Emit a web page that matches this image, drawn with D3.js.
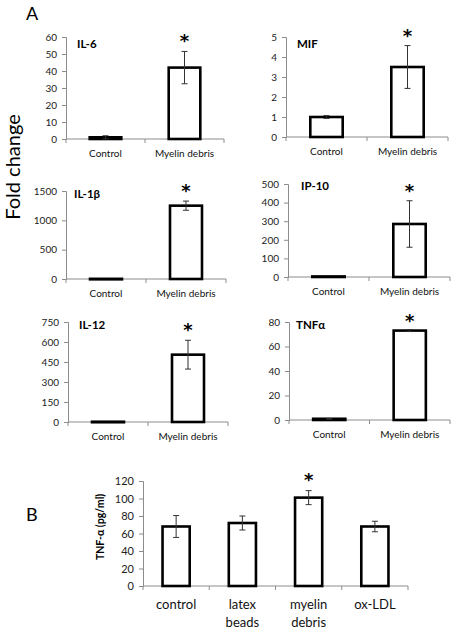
<!DOCTYPE html>
<html><head><meta charset="utf-8">
<script src="https://cdn.jsdelivr.net/npm/d3@7"></script>
<style>body{margin:0;background:#fff}svg{display:block}text{font-family:Lato,"Open Sans",sans-serif}</style>
</head><body>
<script>
// ---- data ----
const catsA = ["Control", "Myelin debris"];
const il6Vals = [1, 42], il6Err = [0.9, 9.5], il6Ticks = [0,10,20,30,40,50,60];
const mifVals = [1, 3.5], mifErr = [0.07, 1.07], mifTicks = [0,1,2,3,4,5];
const il1bVals = [3, 1250], il1bErr = [0, 78], il1bTicks = [0,500,1000,1500];
const ip10Vals = [3, 285], ip10Err = [0, 125], ip10Ticks = [0,100,200,300,400,500];
const il12Vals = [2, 505], il12Err = [0, 108], il12Ticks = [0,150,300,450,600,750];
const tnfVals = [1, 73], tnfErr = [0.3, 0.8], tnfTicks = [0,20,40,60,80];
const catsB = [["control"], ["latex","beads"], ["myelin","debris"], ["ox-LDL"]];
const bVals = [68, 72, 101, 68], bErr = [12.5, 8, 8, 6], bTicks = [0,20,40,60,80,100,120];
const bSig = [false, false, true, false];

const svg = d3.select("body").append("svg").attr("width",456).attr("height",632);

function panel(o){
  const g = svg.append("g");
  const x = d3.scaleBand().domain(o.cats.map((c,i)=>i)).range([o.x0,o.x1]).paddingInner(0).paddingOuter(0);
  const y = d3.scaleLinear().domain([0, o.ticks[o.ticks.length-1]]).range([o.yb,o.yt]);
  const ya = g.append("g").attr("transform",`translate(${o.x0},0)`)
    .call(d3.axisLeft(y).tickValues(o.ticks).tickSize(4).tickPadding(o.tp||5).tickFormat(d3.format("d")));
  ya.select(".domain").attr("stroke","#8c8c8c");
  ya.selectAll(".tick line").attr("stroke","#8c8c8c");
  ya.selectAll(".tick text").attr("fill","#222").style("font-size",o.tfs+"px").style("font-family","Lato, sans-serif");
  g.append("line").attr("x1",o.x0).attr("x2",o.x1).attr("y1",o.yb).attr("y2",o.yb).attr("stroke","#8c8c8c");
  const bounds = o.cats.map((c,i)=>x(i)).concat([x(o.cats.length-1)+x.bandwidth()]);
  g.selectAll(".bt").data(bounds).join("line").attr("x1",d=>d).attr("x2",d=>d)
    .attr("y1",o.yb).attr("y2",o.yb+4).attr("stroke","#8c8c8c");
  const bw = x.bandwidth()*o.bf;
  o.vals.forEach((v,i)=>{
    const cx = x(i)+x.bandwidth()/2;
    const h = o.yb - y(v);
    g.append("rect").attr("x",cx-bw/2).attr("y",y(v)).attr("width",bw).attr("height",Math.max(h,0.5))
      .attr("fill","#fff").attr("stroke","#000").attr("stroke-width",2.6);
    const e = o.errs[i];
    if(e>0){
      const cap = 3;
      g.append("line").attr("x1",cx).attr("x2",cx).attr("y1",y(v+e)).attr("y2",y(v-e)).attr("stroke","#333").attr("stroke-width",1);
      [v+e, v-e].forEach(t=>g.append("line").attr("x1",cx-cap).attr("x2",cx+cap).attr("y1",y(t)).attr("y2",y(t)).attr("stroke","#333").attr("stroke-width",1));
    }
    if(o.sig[i]){
      g.append("text").attr("x",cx).attr("y",y(v+e)+o.sigOff).attr("text-anchor","middle")
        .style("font-family","'DejaVu Sans', sans-serif").style("font-size","18px").style("font-weight","bold")
        .attr("fill","#000").text("*");
    }
    const lab = Array.isArray(o.cats[i]) ? o.cats[i] : [o.cats[i]];
    lab.forEach((l,j)=>g.append("text").attr("x",cx).attr("y",o.yb+o.lo+j*o.lh).attr("text-anchor","middle")
      .style("font-size",o.cfs+"px").attr("fill","#111").text(l));
  });
  if(o.title){
    g.append("text").attr("x",o.tx).attr("y",o.ty).style("font-size","11.5px").style("font-weight","bold").attr("fill","#000").text(o.title);
  }
}

const sigA = [false,true];
panel({cats:catsA, vals:il6Vals, errs:il6Err, ticks:il6Ticks, x0:66, x1:224, yt:37, yb:139, bf:0.4, tfs:10, cfs:10, lo:18, lh:0, sig:sigA, sigOff:-4, title:"IL-6", tx:77, ty:48});
panel({cats:catsA, vals:mifVals, errs:mifErr, ticks:mifTicks, x0:286, x1:448, yt:37, yb:137, bf:0.4, tfs:10, cfs:10, lo:18, lh:0, sig:sigA, sigOff:-4, title:"MIF", tx:297, ty:48});
panel({cats:catsA, vals:il1bVals, errs:il1bErr, ticks:il1bTicks, x0:66, x1:226, yt:191, yb:279, bf:0.4, tfs:10, cfs:10, lo:18, lh:0, sig:sigA, sigOff:-4, title:"IL-1β", tx:74, ty:198});
panel({cats:catsA, vals:ip10Vals, errs:ip10Err, ticks:ip10Ticks, x0:288, x1:450, yt:184, yb:277, bf:0.4, tfs:10, cfs:10, lo:18, lh:0, sig:sigA, sigOff:-4, title:"IP-10", tx:301, ty:190});
panel({cats:catsA, vals:il12Vals, errs:il12Err, ticks:il12Ticks, x0:68, x1:228, yt:322, yb:422, bf:0.4, tfs:10, cfs:10, lo:18, lh:0, sig:sigA, sigOff:-4, title:"IL-12", tx:79, ty:329});
panel({cats:catsA, vals:tnfVals, errs:tnfErr, ticks:tnfTicks, x0:289, x1:450, yt:322, yb:420, bf:0.4, tfs:10, cfs:10, lo:18, lh:0, sig:sigA, sigOff:-3, title:"TNFα", tx:296, ty:329});
panel({cats:catsB, vals:bVals, errs:bErr, ticks:bTicks, x0:143, x1:408, yt:481, yb:586, bf:0.41, tfs:11, cfs:13, lo:23, lh:18, sig:bSig, sigOff:-5, tp:5});

svg.append("text").attr("x",26).attr("y",20).style("font-size","18px").attr("fill","#000").text("A");
svg.append("text").attr("x",26).attr("y",521).style("font-size","18px").attr("fill","#000").text("B");
svg.append("text").attr("transform","translate(20,167) rotate(-90)").attr("text-anchor","middle")
  .style("font-size","20px").attr("fill","#000").text("Fold change");
svg.append("text").attr("transform","translate(104,527) rotate(-90)").attr("text-anchor","middle")
  .style("font-size","10.5px").style("font-weight","bold").attr("fill","#000").text("TNF-α (pg/ml)");
</script>
</body></html>
